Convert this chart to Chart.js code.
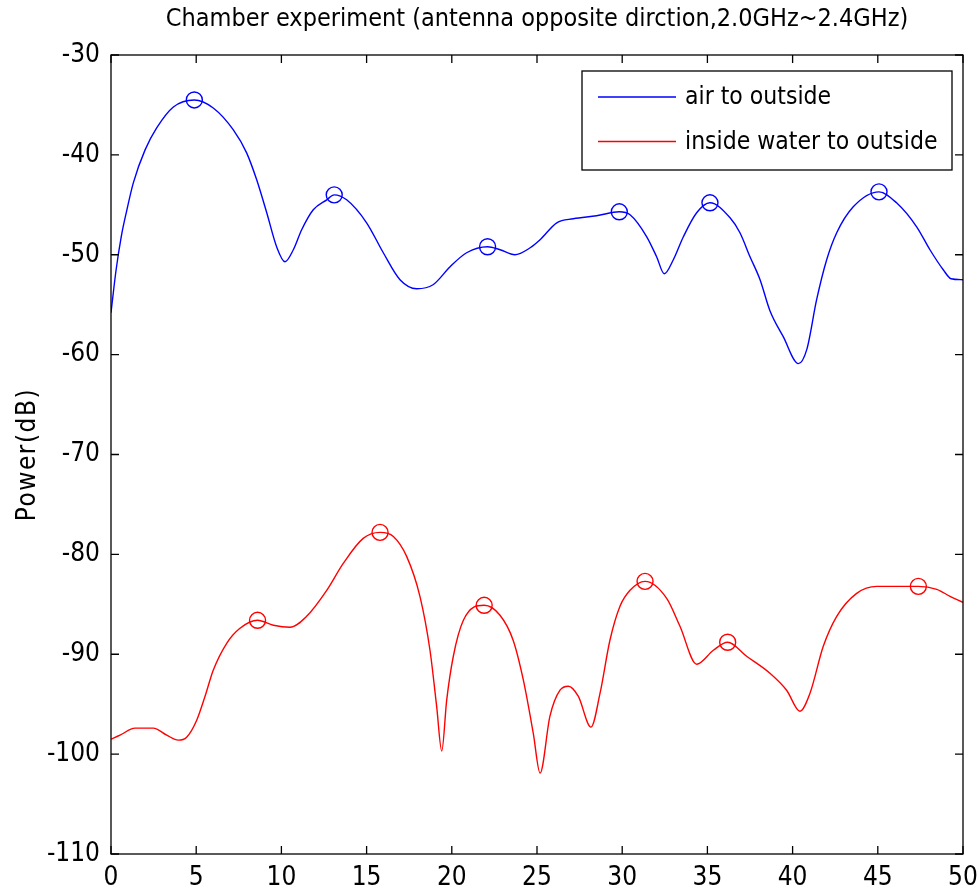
<!DOCTYPE html>
<html>
<head>
<meta charset="utf-8">
<script src="https://cdn.jsdelivr.net/npm/chart.js@4.4.1/dist/chart.umd.min.js"></script>
<style>
  html, body { margin: 0; padding: 0; background: #fff; }
  #wrap { width: 979px; height: 892px; }
</style>
</head>
<body>
<div id="wrap"><canvas id="c" width="979" height="892"></canvas></div>
<script>
const titleText = 'Chamber experiment (antenna opposite dirction,2.0GHz~2.4GHz)';
const yTitle = 'Power(dB)';
const seriesNames = ['air to outside', 'inside water to outside'];
const seriesColors = ['#0000ff', '#ff0000'];

// air to outside
const airX = [0, 0.3, 0.6, 0.92, 1.31, 2.0, 2.68, 3.66, 4.89, 6.0, 7.18, 7.96, 8.55, 9.14, 9.72, 10.21,
  10.7, 11.19, 11.87, 12.66, 13.1, 13.83, 15.0, 15.98, 16.96, 17.94, 18.9, 19.9, 20.87, 22.1,
  22.83, 23.7, 24.6, 25.18, 26.16, 27.13, 28.5, 29.83, 30.46, 31.44, 32.02, 32.47, 33.0, 33.59,
  34.37, 35.15, 36.33, 36.91, 37.5, 38.09, 38.67, 39.45, 40.34, 40.83, 41.41, 42.0, 42.59,
  43.56, 45.07, 46.1, 47.28, 48.06, 48.84, 49.3, 50];
const airY = [-55.8, -51.5, -48.2, -45.6, -42.8, -39.5, -37.3, -35.2, -34.5, -35.3, -37.5, -39.8, -42.5,
  -45.8, -49.2, -50.7, -49.5, -47.5, -45.5, -44.5, -44.0, -44.5, -46.8, -49.8, -52.5, -53.4,
  -53.0, -51.2, -49.8, -49.2, -49.5, -50.0, -49.3, -48.5, -46.8, -46.4, -46.1, -45.7, -46.0,
  -48.2, -50.2, -51.9, -50.5, -48.2, -45.8, -44.8, -46.3, -47.8, -50.2, -52.5, -55.6, -58.2,
  -60.9, -59.5, -54.5, -50.5, -47.8, -45.2, -43.7, -44.8, -47.2, -49.5, -51.5, -52.4, -52.5];

// inside water to outside
const waterX = [0, 0.53, 1.41, 2.48, 3.27, 3.95, 4.44, 5.03, 5.52, 6.0, 6.79, 7.57, 8.6, 9.53,
  10.5, 11.48, 12.66, 13.63, 14.8, 15.79, 16.57, 17.35, 18.13, 18.72, 19.11, 19.41, 19.7,
  20.09, 20.68, 21.9, 22.83, 23.6, 24.2, 24.78, 25.18, 25.76, 26.35, 26.84, 27.42, 28.17,
  28.7, 29.28, 29.87, 30.46, 31.34, 32.61, 33.39, 34.37, 35.35, 36.19, 37.3, 38.67, 39.65,
  40.43, 41.02, 41.8, 42.59, 43.76, 44.94, 47.38, 48.46, 49.24, 50];
const waterY = [-98.5, -98.1, -97.4, -97.4, -98.1, -98.6, -98.3, -96.6, -94.2, -91.6, -88.9,
  -87.4, -86.6, -87.1, -87.3, -86.2, -83.6, -80.9, -78.4, -77.8, -78.2, -80.2, -84.2, -89.6,
  -95.2, -99.7, -94.6, -90.2, -86.6, -85.1, -86.1, -88.6, -92.6, -97.9, -101.9, -96.2, -93.6,
  -93.2, -94.2, -97.3, -93.9, -88.6, -85.2, -83.6, -82.7, -84.4, -87.2, -91.0, -89.6, -88.8,
  -90.2, -91.9, -93.6, -95.7, -93.9, -89.2, -86.2, -83.9, -83.2, -83.2, -83.5, -84.2, -84.8];

// circled peaks
const airPeakX = [4.89, 13.1, 22.1, 29.83, 35.15, 45.07];
const airPeakY = [-34.5, -44.0, -49.2, -45.7, -44.8, -43.7];
const waterPeakX = [8.6, 15.79, 21.9, 31.34, 36.19, 47.38];
const waterPeakY = [-86.6, -77.8, -85.1, -82.7, -88.8, -83.2];

const xTicks = [0, 5, 10, 15, 20, 25, 30, 35, 40, 45, 50];
const yTicks = [-30, -40, -50, -60, -70, -80, -90, -100, -110];

const FONT = '"Liberation Sans Narrow", "DejaVu Sans Condensed", "Liberation Sans", sans-serif';

const pts = (xs, ys) => xs.map((x, i) => ({ x: x, y: ys[i] }));

const lineSet = (label, xs, ys, color) => ({
  label: label, data: pts(xs, ys), borderColor: color, backgroundColor: color,
  borderWidth: 1.4, pointRadius: 0, showLine: true, cubicInterpolationMode: 'monotone', order: 2
});
const markSet = (xs, ys, color) => ({
  label: '', data: pts(xs, ys), borderColor: color, backgroundColor: 'rgba(0,0,0,0)',
  borderWidth: 1.4, pointRadius: 8, pointStyle: 'circle', showLine: false, order: 1
});

// frame, inward ticks, title, y title and legend
const decor = {
  id: 'decor',
  afterDraw(chart) {
    const ctx = chart.ctx, a = chart.chartArea;
    const xs = chart.scales.x, ys = chart.scales.y;
    ctx.save();
    ctx.strokeStyle = '#000';
    ctx.lineWidth = 1.3;
    ctx.strokeRect(a.left, a.top, a.right - a.left, a.bottom - a.top);
    const tl = 8;
    ctx.beginPath();
    xTicks.forEach(v => {
      const p = xs.getPixelForValue(v);
      ctx.moveTo(p, a.bottom); ctx.lineTo(p, a.bottom - tl);
      ctx.moveTo(p, a.top); ctx.lineTo(p, a.top + tl);
    });
    yTicks.forEach(v => {
      const p = ys.getPixelForValue(v);
      ctx.moveTo(a.left, p); ctx.lineTo(a.left + tl, p);
      ctx.moveTo(a.right, p); ctx.lineTo(a.right - tl, p);
    });
    ctx.stroke();

    ctx.fillStyle = '#000';
    ctx.font = '25px ' + FONT;
    ctx.textAlign = 'center';
    ctx.textBaseline = 'middle';
    ctx.fillText(titleText, (a.left + a.right) / 2, 19);

    ctx.save();
    ctx.translate(28, (a.top + a.bottom) / 2);
    ctx.rotate(-Math.PI / 2);
    ctx.font = '26px ' + FONT;
    ctx.letterSpacing = '1.5px';
    ctx.fillText(yTitle, 0, 0);
    ctx.restore();

    // legend
    const bx = 582, by = 71, bw = 370, bh = 99;
    ctx.fillStyle = '#fff';
    ctx.fillRect(bx, by, bw, bh);
    ctx.strokeRect(bx, by, bw, bh);
    ctx.font = '24.5px ' + FONT;
    ctx.textAlign = 'left';
    seriesNames.forEach((name, i) => {
      const yy = 97 + i * 44.5;
      ctx.strokeStyle = seriesColors[i];
      ctx.lineWidth = 1.4;
      ctx.beginPath(); ctx.moveTo(598, yy); ctx.lineTo(676, yy); ctx.stroke();
      ctx.fillStyle = '#000';
      ctx.fillText(name, 685, yy + 1);
    });
    ctx.restore();
  }
};

new Chart(document.getElementById('c'), {
  type: 'scatter',
  data: {
    datasets: [
      lineSet(seriesNames[0], airX, airY, seriesColors[0]),
      lineSet(seriesNames[1], waterX, waterY, seriesColors[1]),
      markSet(airPeakX, airPeakY, seriesColors[0]),
      markSet(waterPeakX, waterPeakY, seriesColors[1])
    ]
  },
  options: {
    responsive: false,
    animation: false,
    events: [],
    layout: { padding: { top: 55, right: 16, left: 0, bottom: 0 } },
    plugins: { legend: { display: false }, title: { display: false }, tooltip: { enabled: false } },
    scales: {
      x: {
        type: 'linear', min: 0, max: 50,
        afterBuildTicks: s => { s.ticks = xTicks.map(v => ({ value: v })); },
        afterFit: s => { s.height = 38; s.paddingLeft = 0; s.paddingRight = 0; },
        grid: { display: false, drawTicks: false },
        border: { display: false },
        ticks: { color: '#000', padding: 9, maxRotation: 0, font: { family: FONT, size: 26 } }
      },
      y: {
        type: 'linear', min: -110, max: -30,
        afterBuildTicks: s => { s.ticks = yTicks.map(v => ({ value: v })); },
        afterFit: s => { s.width = 111; s.paddingTop = 0; s.paddingBottom = 0; },
        grid: { display: false, drawTicks: false },
        border: { display: false },
        ticks: { color: '#000', padding: 11, font: { family: FONT, size: 26 } }
      }
    }
  },
  plugins: [decor]
});
</script>
</body>
</html>
